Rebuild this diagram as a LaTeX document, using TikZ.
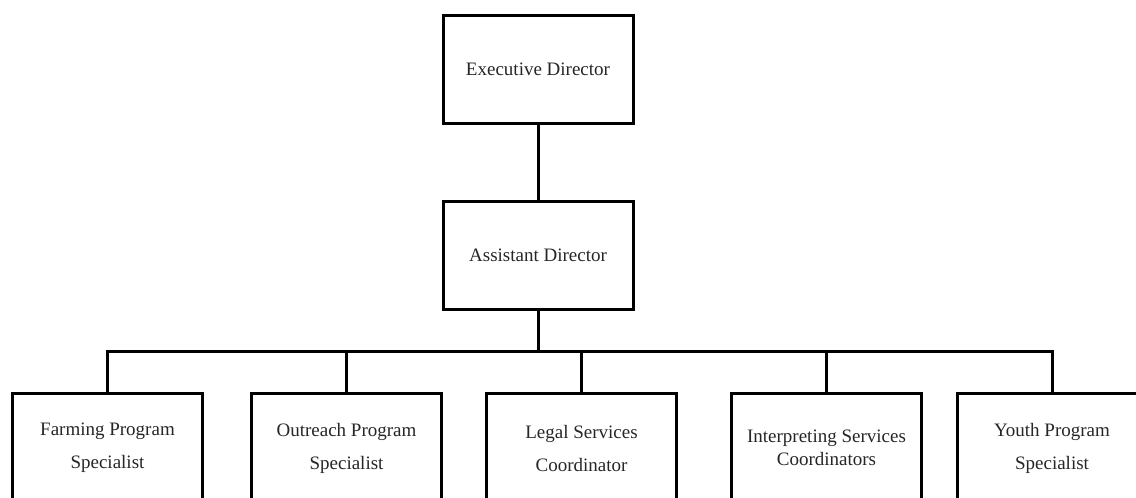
\documentclass[tikz,border=0pt]{standalone}
\usepackage{fontspec}
\setmainfont{Liberation Serif}
\begin{document}
\begin{tikzpicture}
  [x=1pt,y=-1pt,line width=3pt,every node/.style={draw,rectangle,minimum width=190pt,minimum height=108pt,align=center,text=black!85,font=\fontsize{19}{23}\selectfont}]
  \tikzstyle{staff} = [minimum height=110pt]
  \useasboundingbox (0,0) rectangle (1136,498);
  \clip (0,0) rectangle (1136,498);
  \node (ed) at (538, 69) {Executive Director};
  \node (ad) at (538,255) {Assistant Director};
  \node[staff] (fps) at (107.5,448) {Farming Program\\[10pt]Specialist};
  \node[staff] (ops) at (346.5,448) {Outreach Program\\[10pt]Specialist};
  \node[staff] (lsc) at (581.5,448) {Legal Services\\[10pt]Coordinator};
  \node[staff] (isc) at (826.5,448) {Interpreting Services\\Coordinators};
  \node[staff] (yps) at (1052,448) {Youth Program\\[10pt]Specialist};
  \coordinate (bus) at (538,351);

  \draw (ed) -- (ad);
  \foreach \dest in {fps,ops,lsc,isc,yps}
    \draw (ad.south) -- (ad.south |- bus) -| (\dest.north);

\end{tikzpicture}
\end{document}
